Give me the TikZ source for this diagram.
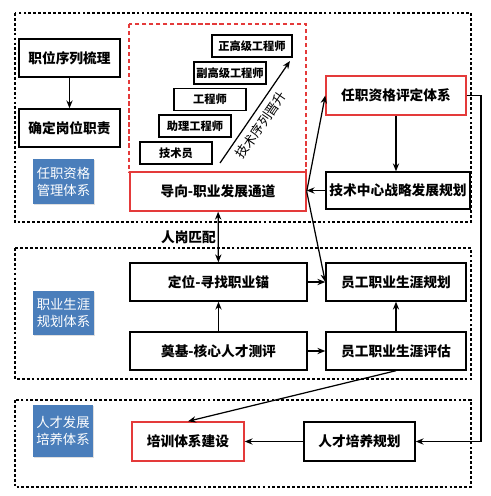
\documentclass[tikz,border=0pt]{standalone}
\usepackage{fontspec}
\setmainfont{Noto Sans CJK SC}
\usetikzlibrary{arrows.meta,shadows}
\definecolor{tagblue}{RGB}{74,126,187}
\definecolor{markred}{RGB}{228,58,58}
\tikzset{
  box/.style={draw, line width=0.8pt, inner sep=0pt, font=\fontsize{7.8}{9}\selectfont\bfseries},
  redbox/.style={box, draw=markred},
  stepbox/.style={draw, line width=0.6pt, inner sep=0pt, minimum height=0.44cm, font=\fontsize{6.4}{8}\selectfont\bfseries},
  tag/.style={fill=tagblue, text=white, inner sep=0pt, align=center,
    font=\fontsize{7.6}{9.6}\selectfont,
    drop shadow={fill=black!25, shadow xshift=0.8pt, shadow yshift=-0.8pt}},
  frame/.style={draw, line width=0.6pt, dash pattern=on 1.6pt off 1.2pt},
  link/.style={line width=0.7pt, -{Stealth[length=4.5pt,width=3.6pt]}},
}
\begin{document}
\begin{tikzpicture}
                        \useasboundingbox (0,0) rectangle (9.800000,9.920000);
                        {

                        % Drawing dashed frames
                        \draw [frame] (0.300000,9.660000) rectangle (9.420000,5.480000);%
                        \draw [frame] (0.300000,4.960000) rectangle (9.420000,2.340000);%
                        \draw [frame] (0.300000,1.920000) rectangle (9.420000,0.180000);%

                        % Drawing red dashed frame of the ladder
                        \draw [markred, line width=0.7pt, dash pattern=on 2.4pt off 1.6pt] (2.580000,9.440000) rectangle (6.120000,6.480000);%

                        % Marking blue tags
                        \node [tag, minimum width=1.22cm, minimum height=0.90cm] (tagqual) at (1.270000,6.290000) {任职资格\\管理体系};%
                        \node [tag, minimum width=1.22cm, minimum height=0.88cm] (tagcareer) at (1.270000,3.660000) {职业生涯\\规划体系};%
                        \node [tag, minimum width=1.20cm, minimum height=1.04cm] (tagtalent) at (1.260000,1.300000) {人才发展\\培养体系};%

                        % Marking upper boxes
                        \node [box, minimum width=2.02cm, minimum height=0.76cm] (sequence) at (1.390000,8.760000) {职位序列梳理};%
                        \node [box, minimum width=2.02cm, minimum height=0.76cm] (duty) at (1.390000,7.360000) {确定岗位职责};%
                        \node [redbox, minimum width=3.52cm, minimum height=0.78cm] (guide) at (4.360000,6.090000) {导向-职业发展通道};%
                        \node [redbox, minimum width=2.80cm, minimum height=0.78cm] (evaluate) at (7.920000,8.010000) {任职资格评定体系};%
                        \node [box, minimum width=2.88cm, minimum height=0.74cm] (strategy) at (7.960000,6.110000) {技术中心战略发展规划};%

                        % Marking ladder steps
                        \node [stepbox, minimum width=1.60cm] (senior) at (5.040000,9.000000) {正高级工程师};%
                        \node [stepbox, minimum width=1.44cm] (vicesenior) at (4.600000,8.460000) {副高级工程师};%
                        \node [stepbox, minimum width=1.44cm] (engineer) at (4.200000,7.930000) {工程师};%
                        \node [stepbox, minimum width=1.44cm] (assistant) at (3.900000,7.400000) {助理工程师};%
                        \node [stepbox, minimum width=1.44cm] (technician) at (3.520000,6.860000) {技术员};%

                        % Drawing rise arrow
                        \coordinate (rise0) at (4.400000,6.660000);%
                        \coordinate (rise1) at (5.800000,8.700000);%
                        \draw [link] (rise0) -- (rise1);%
                        \draw (5.220000,7.420000) node [rotate=55.5, inner sep=0pt, font=\fontsize{7.4}{9}\selectfont] (riselabel) {技术序列晋升};%

                        % Marking middle boxes
                        \node [box, minimum width=3.54cm, minimum height=0.76cm] (anchor) at (4.370000,4.280000) {定位-寻找职业锚};%
                        \node [box, minimum width=2.80cm, minimum height=0.76cm] (plan) at (7.920000,4.280000) {员工职业生涯规划};%
                        \node [box, minimum width=3.54cm, minimum height=0.76cm] (base) at (4.370000,2.900000) {奠基-核心人才测评};%
                        \node [box, minimum width=2.80cm, minimum height=0.76cm] (assess) at (7.920000,2.900000) {员工职业生涯评估};%

                        % Marking lower boxes
                        \node [redbox, minimum width=2.24cm, minimum height=0.78cm] (train) at (3.760000,1.090000) {培训体系建设};%
                        \node [box, minimum width=2.22cm, minimum height=0.78cm] (cultivate) at (7.190000,1.090000) {人才培养规划};%

                        % Drawing connectors
                        \draw [link] (sequence) -- (duty);%
                        \draw [link] (evaluate.south) -- (evaluate.south |- strategy.north);%
                        \draw [link] (strategy.west) -- (strategy.west -| guide.east);%
                        \draw [link] (guide.east) -- (evaluate.west);%
                        \draw [link] (guide.east) -- (plan.west);%
                        \draw [link, {Stealth[length=4.5pt,width=3.6pt]}-{Stealth[length=4.5pt,width=3.6pt]}] (guide) -- (anchor) node [pos=0.5, anchor=east, inner sep=1pt, font=\fontsize{7.8}{9}\selectfont\bfseries] (matchlabel) {人岗匹配};%
                        \draw [link] (anchor) -- (plan);%
                        \draw [link] (base) -- (anchor);%
                        \draw [link] (assess) -- (plan);%
                        \draw [link] (base) -- (assess);%
                        \draw [link] (assess.south) -- (train.north);%
                        \coordinate (edge) at (9.620000,8.010000);%
                        \draw [link] (evaluate.east) -- (edge) |- (cultivate.east);%
                        \draw [link] (cultivate) -- (train);%
                        }
                    \end{tikzpicture}
\end{document}
